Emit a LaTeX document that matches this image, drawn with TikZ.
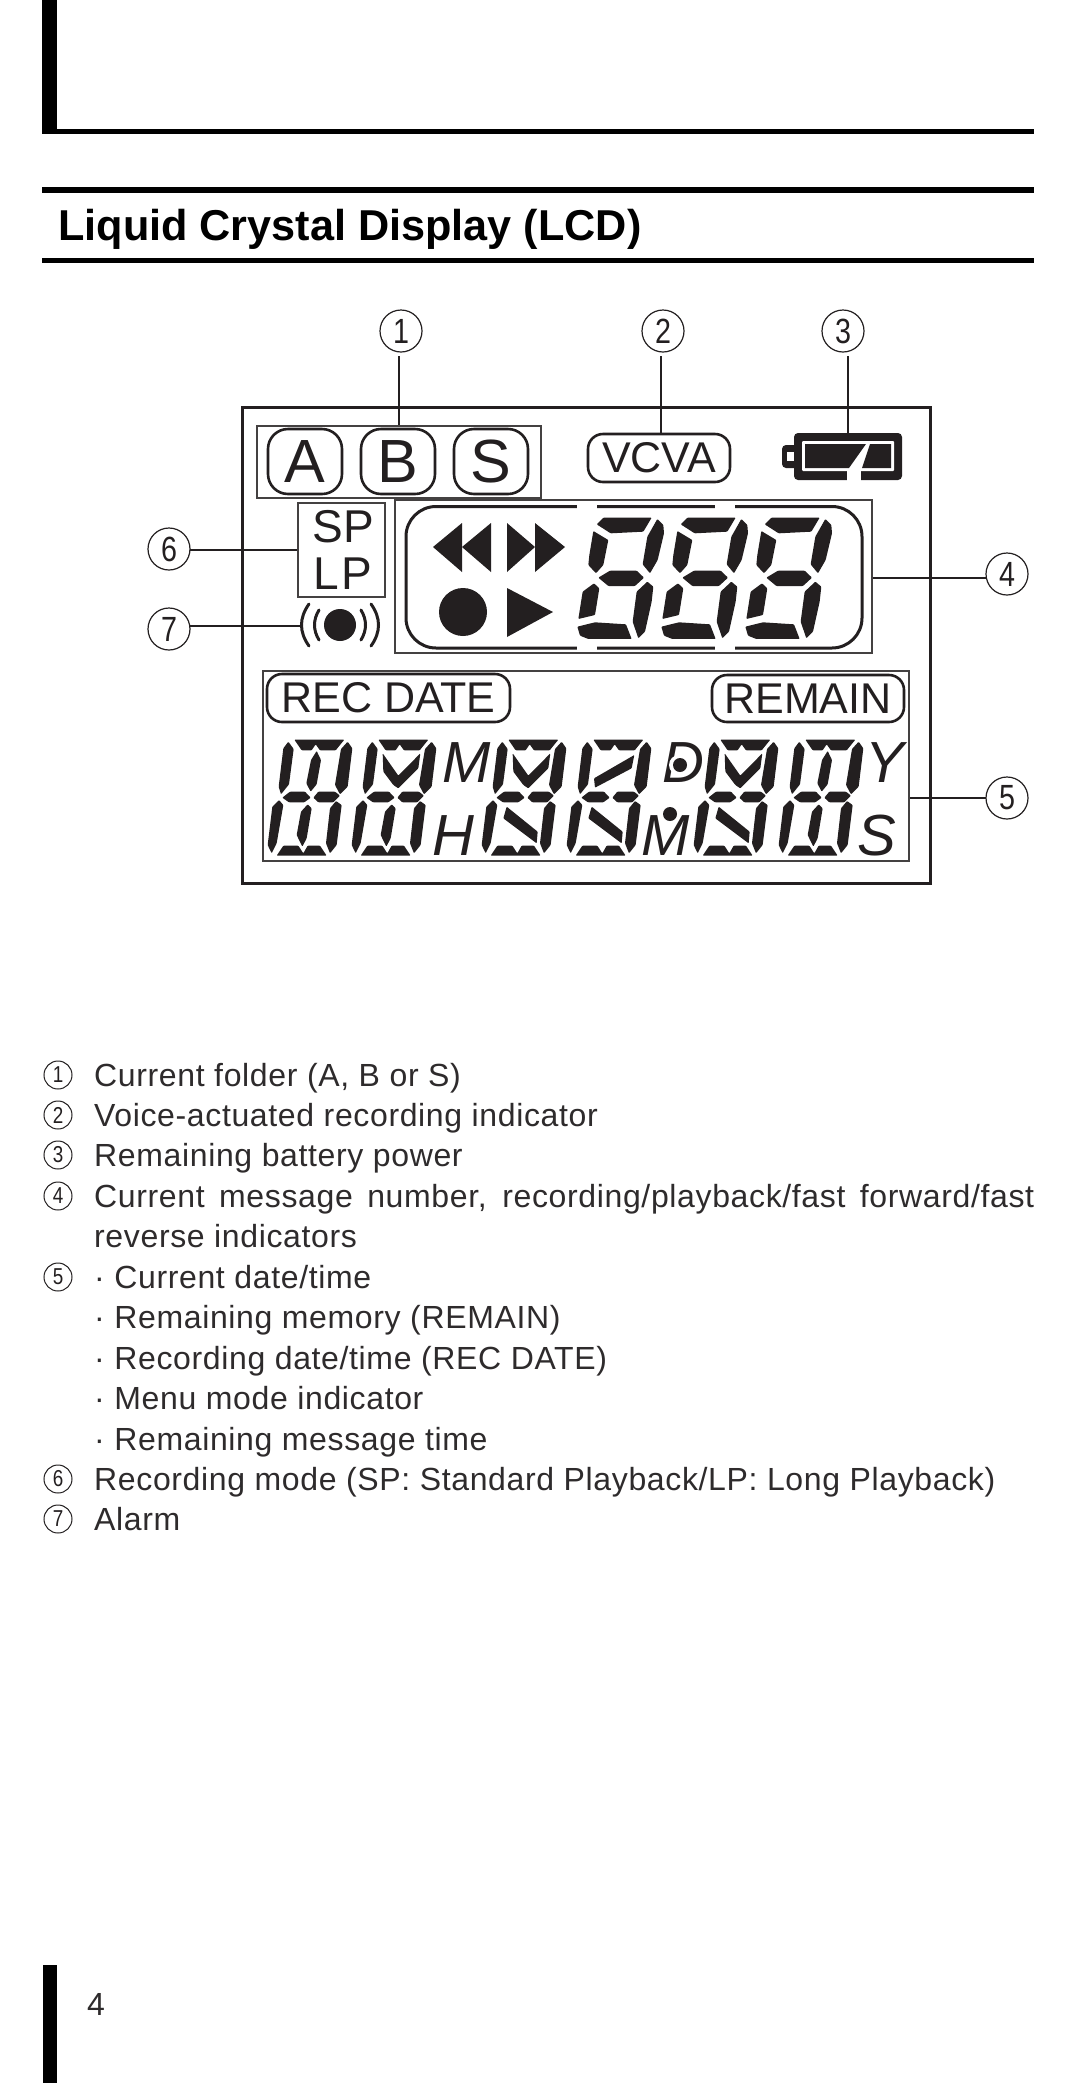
\documentclass[tikz,border=0pt]{standalone}
\usepackage{fontspec}
\setmainfont{Liberation Sans}
\newfontfamily\bodyfont[LetterSpace=2]{Liberation Sans}
\usetikzlibrary{calc}
\definecolor{ink}{HTML}{231F20}
\definecolor{bodyink}{HTML}{2E2B2C}
\newcommand{\pxfont}[1]{\fontsize{#1}{#1}\selectfont}
\newcommand{\thindigit}[1]{\scalebox{0.82}[1]{#1}}
\tikzset{
  heavy/.style={draw=black,line width=#1},
  callout/.style={circle,draw=ink,line width=1.2pt,minimum size=42pt,inner sep=0pt,text=ink,font=\pxfont{35}},
  listmark/.style={circle,draw=ink,line width=1pt,minimum size=28pt,inner sep=0pt,text=ink,font=\pxfont{23}},
  leader/.style={draw=ink,line width=2.2pt},
  panelbox/.style={draw=ink!85,line width=2pt,inner sep=0pt,rectangle},
  pill/.style={draw=ink,line width=2.6pt,rounded corners=#1,inner sep=0pt,text=ink},
  bodytext/.style={anchor=base west,inner sep=0pt,text=bodyink,font=\bodyfont\pxfont{32}},
  glyph/.style={anchor=base,inner sep=0pt,text=ink,font=\pxfont{58}\itshape},
  seg/.style={fill=ink,draw=none,rounded corners=0.8pt},
}
% 7-segment digit, coordinates are 3x zoom pixels
\newcommand{\sevenseg}[1]{%
\begin{scope}[shift={(570+#1,505)},x=0.3333pt,y=-0.3333pt]
\fill[seg] (80,58)--(100,38)--(245,38)--(220,80)--(122,85)--cycle;
\fill[seg] (70,78)--(115,105)--(100,180)--(78,205)--(55,180)--(58,150)--cycle;
\fill[seg] (262,42)--(280,60)--(282,85)--(263,165)--(240,205)--(218,178)--(232,95)--cycle;
\fill[seg] (85,218)--(120,197)--(200,197)--(222,218)--(195,243)--(115,243)--cycle;
\fill[seg] (72,235)--(88,250)--(75,330)--(25,342)--(38,260)--cycle;
\fill[seg] (232,230)--(250,245)--(245,290)--(225,380)--(205,400)--(188,350)--(200,260)--cycle;
\fill[seg] (22,365)--(75,352)--(168,358)--(185,402)--(55,402)--(30,392)--cycle;
\end{scope}}
% 14-segment digit parts
\newcommand{\frameseg}{%
\fill[seg] (88,44)--(238,44)--(212,76)--(165,76)--(152,58)--(140,76)--(110,76)--cycle;
\fill[seg] (70,50)--(86,72)--(72,178)--(48,208)--(41,185)--(55,70)--cycle;
\fill[seg] (248,50)--(262,70)--(248,185)--(225,208)--(210,180)--(228,72)--cycle;
\fill[seg] (52,218)--(75,200)--(120,200)--(137,218)--(118,232)--(72,232)--cycle;
\fill[seg] (145,218)--(160,200)--(210,200)--(225,212)--(205,232)--(160,232)--cycle;
\fill[seg] (42,225)--(55,240)--(35,355)--(20,385)--(8,360)--(22,245)--cycle;
\fill[seg] (213,228)--(230,240)--(215,360)--(195,385)--(183,355)--(195,250)--cycle;
\fill[seg] (55,362)--(100,362)--(115,385)--(128,362)--(165,362)--(185,392)--(35,392)--cycle;}
\newcommand{\uppI}{\fill[seg] (155,78)--(168,105)--(155,178)--(137,200)--(124,175)--(138,105)--cycle;}
\newcommand{\uppV}{\fill[seg] (101,85)--(148,152)--(214,85)--(208,130)--(148,190)--(133,180)--(103,140)--cycle;}
\newcommand{\uppS}{\fill[seg] (211,90)--(203,130)--(93,188)--(90,160)--cycle;}
\newcommand{\lowI}{\fill[seg] (128,238)--(140,250)--(125,340)--(112,365)--(95,330)--(108,260)--cycle;}
\newcommand{\lowB}{\fill[seg] (83,245)--(176,320)--(173,355)--(73,280)--cycle;}
\newcommand{\alphaseg}[3]{%
\begin{scope}[shift={(265+#1,725)},x=0.3333pt,y=-0.3333pt]
\frameseg #2 #3
\end{scope}}
\begin{document}
\begin{tikzpicture}[x=1pt,y=-1pt]
\useasboundingbox (0,0) rectangle (1080,2083);
\fill[white] (0,0) rectangle (1080,2083);

% page furniture
\fill[black] (42,0) rectangle (57,134);
\draw[heavy=5pt] (42,131.5) -- (1034,131.5);
\draw[heavy=5.5pt] (42,190) -- (1034,190);
\draw[heavy=5.5pt] (42,260.5) -- (1034,260.5);
\node[anchor=base west,inner sep=0pt,text=black,font=\pxfont{43.2}\bfseries] (title) at (58,240) {Liquid Crystal Display (LCD)};
\fill[black] (43,1965) rectangle (57,2083);
\node[bodytext] (page) at (87,2015) {4};

% panel
\node[rectangle,draw=ink,line width=3pt,inner sep=0pt,minimum width=688pt,minimum height=476pt] (lcd) at (586,645) {};
\node[panelbox,minimum width=284pt,minimum height=72pt] (abs) at (399,462) {};
\node[panelbox,minimum width=87pt,minimum height=94pt] (mode) at (341.5,550) {};
\node[panelbox,minimum width=477pt,minimum height=153pt] (msg) at (633.5,576.5) {};
\node[panelbox,minimum width=646pt,minimum height=190pt] (info) at (586,766) {};

% folder letters
\node[pill=20pt,minimum width=74pt,minimum height=65pt,font=\pxfont{61}] (folderA) at (305,461.5) {A};
\node[pill=20pt,minimum width=74pt,minimum height=65pt,font=\pxfont{61}] (folderB) at (398,461.5) {B};
\node[pill=20pt,minimum width=74pt,minimum height=65pt,font=\pxfont{61}] (folderS) at (491,461.5) {S};
\node[inner sep=0pt,text=ink,font=\pxfont{46}] (sp) at (343,527) {SP};
\node[inner sep=0pt,text=ink,font=\pxfont{46}] (lp) at (343,574) {L\kern3pt P};
\node[pill=15pt,minimum width=142pt,minimum height=48pt,font=\pxfont{43}] (vcva) at (659,458) {VCVA};
\node[pill=15pt,minimum width=243pt,minimum height=48pt,font=\pxfont{43}] (recdate) at (388.5,698) {REC DATE};
\node[pill=15pt,minimum width=192pt,minimum height=47pt,font=\pxfont{43}] (remain) at (808,698.5) {REMAIN};

% battery
\fill[ink,rounded corners=4pt] (794,433) rectangle (902,480);
\fill[ink,rounded corners=4pt] (782,445) rectangle (800,468);
\fill[white] (787,452) rectangle (794,461);
\fill[white,rounded corners=1pt] (802,441) rectangle (894,471);
\fill[ink] (805,444)--(866,444)--(849,468)--(805,468)--cycle;
\fill[ink] (870,444)--(891,444)--(891,468)--(862,468)--cycle;
\fill[white] (847,469) rectangle (861,482);
\coordinate (battop) at (848,433);

% transport panel
\draw[ink,line width=3pt,rounded corners=30pt] (406,506.5) rectangle (862,648);
\foreach \gx in {577,715} {
  \fill[white] (\gx,504) rectangle (\gx+20,509.5);
  \fill[white] (\gx,645) rectangle (\gx+20,650.5);
}
\fill[ink] (433,547)--(462,523)--(462,572)--cycle;
\fill[ink] (462,547)--(491,523)--(491,572)--cycle;
\fill[ink] (507,523)--(535,547)--(507,572)--cycle;
\fill[ink] (535,523)--(565,547)--(535,572)--cycle;
\fill[ink] (463,612) circle (24);
\fill[ink] (507,588)--(553,612)--(507,637)--cycle;
\sevenseg{0}\sevenseg{84}\sevenseg{168}

% alarm
\fill[ink] (340,625) circle (16);
\draw[ink,line width=3pt,line cap=round]
  (319,610) .. controls (313,620) and (313,630) .. (319,640)
  (361,610) .. controls (367,620) and (367,630) .. (361,640)
  (309,604) .. controls (299,618) and (299,632) .. (309,646)
  (371,604) .. controls (381,618) and (381,632) .. (371,646);
\coordinate (alarmleft) at (301,626);

% 14-segment rows
\alphaseg{0}{\uppI}{\lowI}
\alphaseg{84}{\uppV}{\lowI}
\alphaseg{214}{\uppV}{\lowB}
\alphaseg{299}{\uppS}{\lowB}
\alphaseg{426}{\uppV}{\lowB}
\alphaseg{511}{\uppI}{\lowI}

\node[glyph] (gm) at (467,782) {M};
\node[glyph] (gh) at (453,855) {H};
\node[glyph] (gd) at (683,782) {D};
\fill[white] (679,765) circle (10);
\fill[ink] (680,765) circle (7);
\node[glyph] (gy) at (885,782) {Y};
\node[glyph] (gm2) at (666,855) {M};
\fill[white] (670,814) circle (9);
\fill[ink] (670,814) circle (7);
\node[glyph] (gs) at (877,855) {S};

% callouts
\node[callout] (c1) at (401,331) {\thindigit{1}};
\node[callout] (c2) at (663,331) {\thindigit{2}};
\node[callout] (c3) at (843,331) {\thindigit{3}};
\node[callout] (c4) at (1007,574) {\thindigit{4}};
\node[callout] (c5) at (1007,798) {\thindigit{5}};
\node[callout] (c6) at (169,549) {\thindigit{6}};
\node[callout] (c7) at (169,629) {\thindigit{7}};
\coordinate (s1) at (399,356);
\coordinate (s2) at (661,356);
\coordinate (s3) at (848,356);
\coordinate (s4) at (986,578);
\coordinate (s5) at (986,798);
\coordinate (s6) at (190,550);
\coordinate (s7) at (190,626);
\draw[leader] (s1) -- (abs.north -| s1);
\draw[leader] (s2) -- (vcva.north -| s2);
\draw[leader] (s3) -- (battop);
\draw[leader] (s4) -- (msg.east |- s4);
\draw[leader] (s5) -- (info.east |- s5);
\draw[leader] (s6) -- (mode.west |- s6);
\draw[leader] (s7) -- (alarmleft);

% list
\node[listmark] (m1) at (58,1075) {\thindigit{1}};
\node[listmark] (m2) at (58,1115) {\thindigit{2}};
\node[listmark] (m3) at (58,1155) {\thindigit{3}};
\node[listmark] (m4) at (58,1196) {\thindigit{4}};
\node[listmark] (m5) at (58,1277) {\thindigit{5}};
\node[listmark] (m6) at (58,1479) {\thindigit{6}};
\node[listmark] (m7) at (58,1519) {\thindigit{7}};
\node[bodytext] (t1) at (94,1086) {Current folder (A, B or S)};
\node[bodytext] (t2) at (94,1126) {Voice-actuated recording indicator};
\node[bodytext] (t3) at (94,1166) {Remaining battery power};
\node[bodytext] (t4) at (94,1207) {\makebox[940pt][s]{Current message number, recording/playback/fast forward/fast}};
\node[bodytext] (t4b) at (94,1247) {reverse indicators};
\node[bodytext] (t5) at (94,1288) {· Current date/time};
\node[bodytext] (t6) at (94,1328) {· Remaining memory (REMAIN)};
\node[bodytext] (t7) at (94,1369) {· Recording date/time (REC DATE)};
\node[bodytext] (t8) at (94,1409) {· Menu mode indicator};
\node[bodytext] (t9) at (94,1450) {· Remaining message time};
\node[bodytext] (t10) at (94,1490) {Recording mode (SP: Standard Playback/LP: Long Playback)};
\node[bodytext] (t11) at (94,1530) {Alarm};
\end{tikzpicture}
\end{document}
